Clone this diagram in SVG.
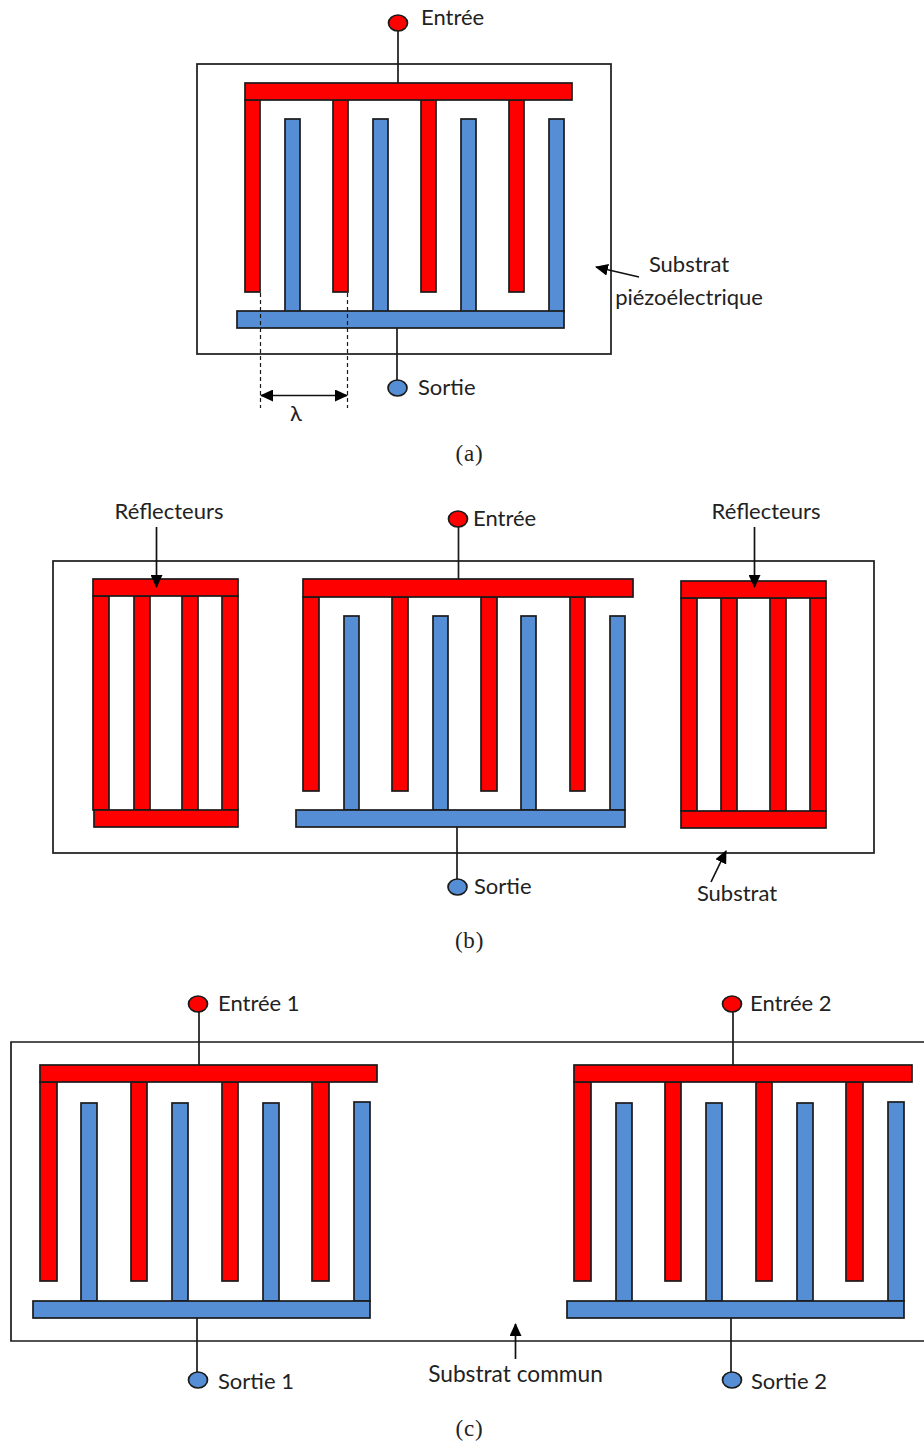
<svg xmlns="http://www.w3.org/2000/svg" width="924" height="1443" viewBox="0 0 924 1443">
<style>
.bg{fill:#fff}
.frame{fill:none;stroke:#1a1a1a;stroke-width:1.7}
.r{fill:#f00;stroke:#1a1a1a;stroke-width:1.7}
.b{fill:#558ed5;stroke:#1a1a1a;stroke-width:1.7}
.w{fill:none;stroke:#1a1a1a;stroke-width:1.7}
.d{fill:none;stroke:#1a1a1a;stroke-width:1.2;stroke-dasharray:4 3}
.t{font-family:"Lato","Open Sans",sans-serif;font-size:22px;fill:#222}
.c{font-family:"Liberation Serif",serif;font-size:23px;letter-spacing:.8px;fill:#222;text-anchor:middle}
.arrow{fill:none;stroke:#111;stroke-width:1.7;marker-end:url(#ah)}
</style>
<defs>
<marker id="ah" markerUnits="userSpaceOnUse" markerWidth="13" markerHeight="12" refX="12" refY="6" orient="auto"><path d="M0,0L13,6L0,12Z" fill="#000"/></marker>
<marker id="ahs" markerUnits="userSpaceOnUse" markerWidth="13" markerHeight="12" refX="1" refY="6" orient="auto"><path d="M13,0L0,6L13,12Z" fill="#000"/></marker>
</defs>
<rect class="bg" width="924" height="1443"/>

<g id="substrat-a"><rect class="frame" x="197" y="64" width="414" height="290"/></g>
<g id="substrat-b"><rect class="frame" x="53" y="561" width="821" height="292"/></g>
<g id="substrat-c"><path class="frame" d="M926,1042H11V1341H926"/></g>

<g id="idt-a">
<rect class="r" x="245" y="100" width="15" height="192"/><rect class="r" x="333" y="100" width="15" height="192"/><rect class="r" x="421" y="100" width="15" height="192"/><rect class="r" x="509" y="100" width="15" height="192"/>
<rect class="r" x="245" y="83" width="327" height="17"/>
<rect class="b" x="285" y="119" width="15" height="193"/><rect class="b" x="373" y="119" width="15" height="193"/><rect class="b" x="461" y="119" width="15" height="193"/><rect class="b" x="549" y="119" width="15" height="193"/>
<rect class="b" x="237" y="311" width="327" height="17"/>
</g>
<g id="idt-b">
<rect class="r" x="303" y="597" width="16" height="194"/><rect class="r" x="392" y="597" width="16" height="194"/><rect class="r" x="481" y="597" width="16" height="194"/><rect class="r" x="570" y="597" width="15" height="194"/>
<rect class="r" x="303" y="579" width="330" height="18"/>
<rect class="b" x="344" y="616" width="15" height="194"/><rect class="b" x="433" y="616" width="15" height="194"/><rect class="b" x="521" y="616" width="15" height="194"/><rect class="b" x="610" y="616" width="15" height="194"/>
<rect class="b" x="296" y="810" width="329" height="17"/>
</g>
<g id="reflecteur-gauche">
<rect class="r" x="93" y="596" width="16" height="214"/><rect class="r" x="134" y="596" width="16" height="214"/><rect class="r" x="182" y="596" width="16" height="214"/><rect class="r" x="222" y="596" width="16" height="214"/>
<rect class="r" x="93" y="579" width="145" height="17"/><rect class="r" x="94" y="810" width="144" height="17"/>
</g>
<g id="reflecteur-droit">
<rect class="r" x="681" y="598" width="16" height="213"/><rect class="r" x="721" y="598" width="16" height="213"/><rect class="r" x="770" y="598" width="16" height="213"/><rect class="r" x="810" y="598" width="16" height="213"/>
<rect class="r" x="681" y="581" width="145" height="17"/><rect class="r" x="681" y="811" width="145" height="17"/>
</g>
<g id="idt-c1">
<rect class="r" x="40" y="1082" width="17" height="199"/><rect class="r" x="131" y="1082" width="16" height="199"/><rect class="r" x="222" y="1082" width="16" height="199"/><rect class="r" x="312" y="1082" width="17" height="199"/>
<rect class="r" x="40" y="1065" width="337" height="17"/>
<rect class="b" x="81" y="1103" width="16" height="198"/><rect class="b" x="172" y="1103" width="16" height="198"/><rect class="b" x="263" y="1103" width="16" height="198"/><rect class="b" x="354" y="1102" width="16" height="199"/>
<rect class="b" x="33" y="1301" width="337" height="17"/>
</g>
<g id="idt-c2">
<rect class="r" x="574" y="1082" width="17" height="199"/><rect class="r" x="665" y="1082" width="16" height="199"/><rect class="r" x="756" y="1082" width="16" height="199"/><rect class="r" x="846" y="1082" width="17" height="199"/>
<rect class="r" x="574" y="1065" width="338" height="17"/>
<rect class="b" x="616" y="1103" width="16" height="198"/><rect class="b" x="706" y="1103" width="16" height="198"/><rect class="b" x="797" y="1103" width="16" height="198"/><rect class="b" x="888" y="1102" width="16" height="199"/>
<rect class="b" x="567" y="1301" width="337" height="17"/>
</g>

<g id="connectors">
<path class="w" d="M398,31V83M397,328V380M458.500,527V579M457,827V879M199,1011V1065M197,1318V1372M733,1011V1065M731,1318V1372"/>
<path class="d" d="M260.500,293V408M347.500,293V408"/>
<path fill="none" stroke="#111" stroke-width="1.700" marker-start="url(#ahs)" marker-end="url(#ah)" d="M261,395.500H347"/>
<path class="arrow" d="M639,277L596,267"/>
<path class="arrow" d="M156.500,527V587"/>
<path class="arrow" d="M754.500,527V587"/>
<path class="arrow" d="M711,882L726,851"/>
<path class="arrow" d="M515.500,1359V1324"/>
</g>

<g id="entree-a"><ellipse class="r" cx="398" cy="23" rx="9.500" ry="8"/><text class="t" x="421" y="25">Entrée</text></g>
<g id="sortie-a"><ellipse class="b" cx="397.500" cy="388" rx="9.500" ry="8"/><text class="t" x="418" y="395">Sortie</text></g>
<g id="label-lambda"><text class="t" x="296" y="421" text-anchor="middle">λ</text></g>
<g id="label-substrat-a"><text class="t" x="689" y="272" text-anchor="middle">Substrat</text><text class="t" x="689" y="305" text-anchor="middle">piézoélectrique</text></g>
<g id="caption-a"><text class="c" x="469.500" y="461">(a)</text></g>

<g id="label-reflecteurs-g"><text class="t" x="169" y="519" text-anchor="middle">Réflecteurs</text></g>
<g id="label-reflecteurs-d"><text class="t" x="766" y="519" text-anchor="middle">Réflecteurs</text></g>
<g id="entree-b"><ellipse class="r" cx="458" cy="519" rx="9.500" ry="8"/><text class="t" x="473" y="526">Entrée</text></g>
<g id="sortie-b"><ellipse class="b" cx="457.500" cy="887" rx="9.500" ry="8"/><text class="t" x="474" y="894">Sortie</text></g>
<g id="label-substrat-b"><text class="t" x="737" y="901" text-anchor="middle">Substrat</text></g>
<g id="caption-b"><text class="c" x="469.500" y="948">(b)</text></g>

<g id="entree-1"><ellipse class="r" cx="198" cy="1004" rx="9.500" ry="8"/><text class="t" x="218" y="1011">Entrée 1</text></g>
<g id="entree-2"><ellipse class="r" cx="732" cy="1004" rx="9.500" ry="8"/><text class="t" x="750" y="1011">Entrée 2</text></g>
<g id="sortie-1"><ellipse class="b" cx="198" cy="1380" rx="9.500" ry="8"/><text class="t" x="218" y="1389">Sortie 1</text></g>
<g id="sortie-2"><ellipse class="b" cx="732" cy="1380" rx="9.500" ry="8"/><text class="t" x="751" y="1389">Sortie 2</text></g>
<g id="label-substrat-commun"><text class="t" x="515.500" y="1382" text-anchor="middle" style="font-size:22.700px">Substrat commun</text></g>
<g id="caption-c"><text class="c" x="469.500" y="1436">(c)</text></g>
</svg>
